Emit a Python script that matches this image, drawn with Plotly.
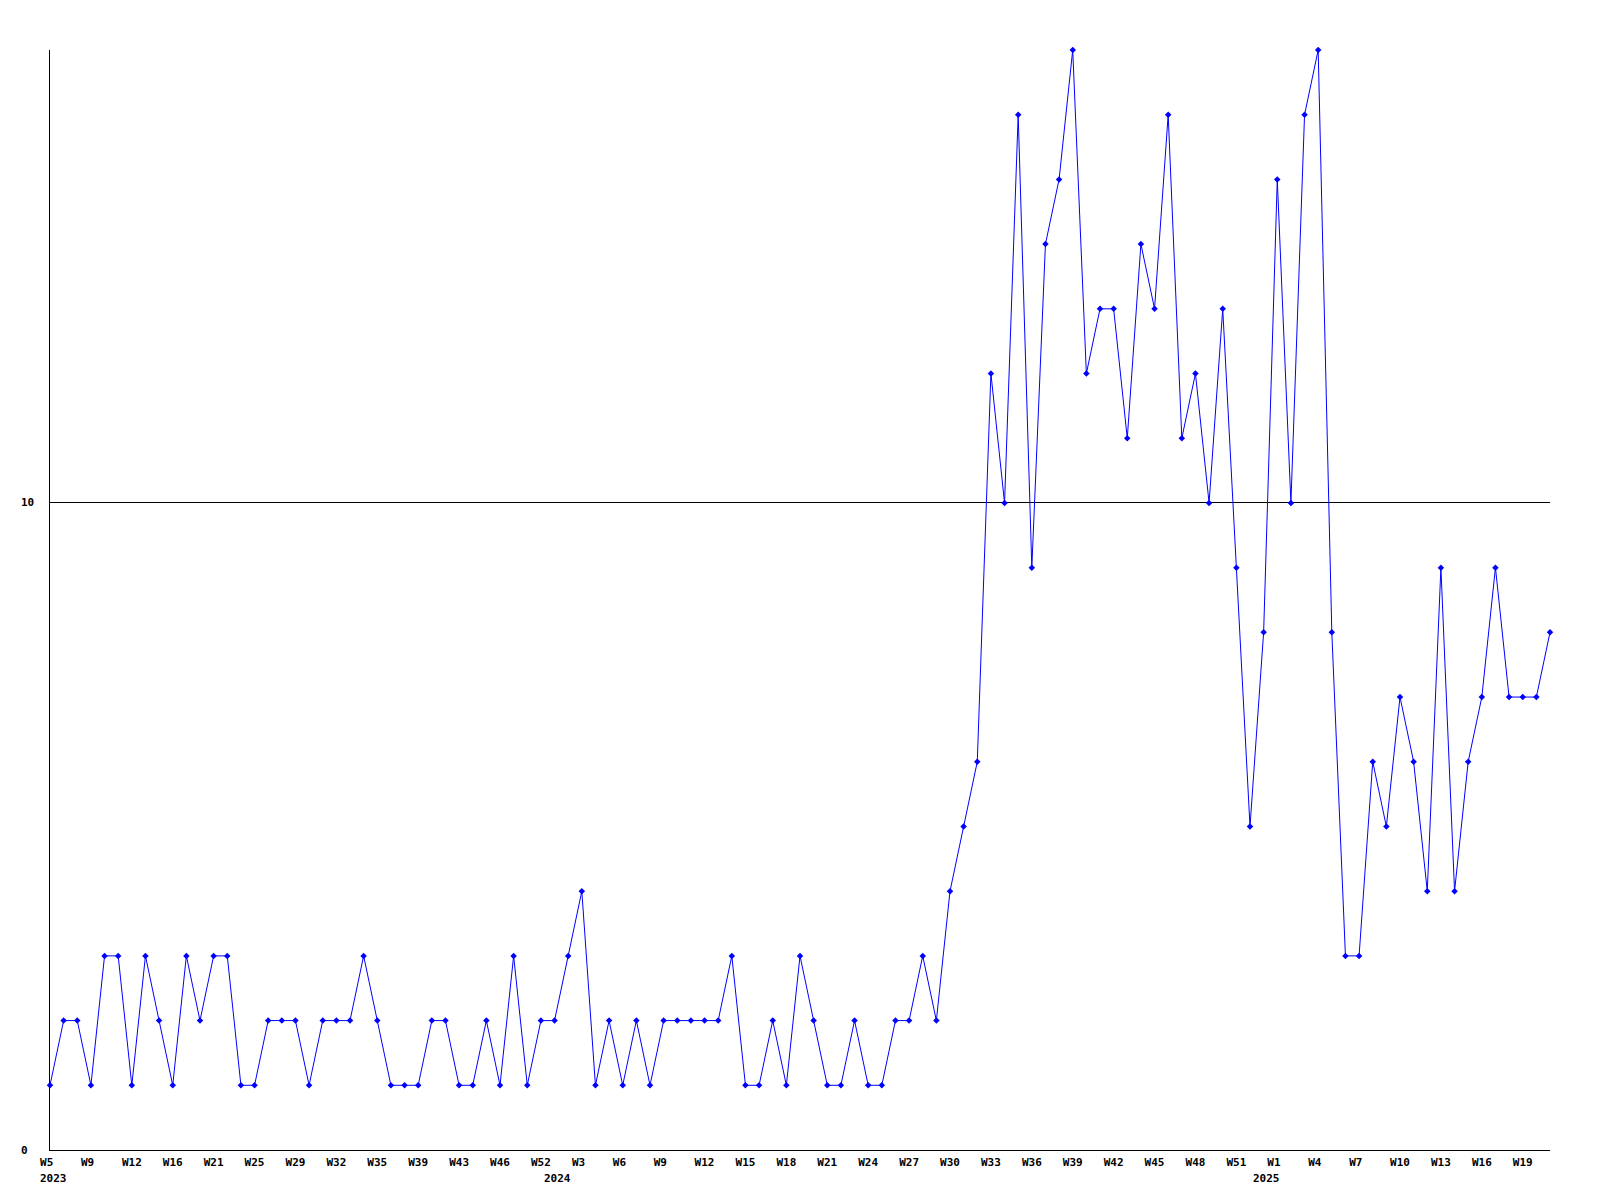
import plotly.graph_objects as go

# weekly values (one point per week, in order)
values = [
    1, 2, 2, 1, 3, 3, 1, 3, 2, 1, 3, 2, 3, 3, 1, 1, 2, 2, 2, 1,
    2, 2, 2, 3, 2, 1, 1, 1, 2, 2, 1, 1, 2, 1, 3, 1, 2, 2, 3, 4,
    1, 2, 1, 2, 1, 2, 2, 2, 2, 2, 3, 1, 1, 2, 1, 3, 2, 1, 1, 2,
    1, 1, 2, 2, 3, 2, 4, 5, 6, 12, 10, 16, 9, 14, 15, 17, 12, 13, 13, 11,
    14, 13, 16, 11, 12, 10, 13, 9, 5, 8, 15, 10, 16, 17, 8, 3, 3, 6, 5, 7,
    6, 4, 9, 4, 6, 7, 9, 7, 7, 7, 8,
]

# week tick labels, one every third point
week_labels = [
    "W5", "W9", "W12", "W16", "W21", "W25", "W29", "W32", "W35", "W39", "W43", "W46", "W52",
    "W3", "W6", "W9", "W12", "W15", "W18", "W21", "W24", "W27", "W30", "W33", "W36", "W39",
    "W42", "W45", "W48", "W51",
    "W1", "W4", "W7", "W10", "W13", "W16", "W19",
]
week_label_step = 3

# year labels and the point index where each year starts
years = ["2023", "2024", "2025"]
year_start_index = [0, 37, 89]

y_ticks = [0, 10]
y_max = 17

x = list(range(len(values)))
tickvals = [i * week_label_step for i in range(len(week_labels))]
# pad 2-char labels so they sit like the original (monospace, centred on 3 chars)
ticktext = [w + "\u00a0" if len(w) < 3 else w for w in week_labels]

FONT = dict(family="DejaVu Sans Mono", size=11, color="black", weight="bold")

fig = go.Figure()
fig.add_trace(go.Scatter(
    x=x, y=values, mode="lines+markers",
    line=dict(color="#0000FF", width=1),
    marker=dict(symbol="diamond", size=5, color="#0000FF"),
    cliponaxis=False,
    showlegend=False,
    hoverinfo="x+y",
))

annotations = []
for yr, idx in zip(years, year_start_index):
    annotations.append(dict(
        x=idx, xref="x", y=0, yref="paper", text=yr, showarrow=False,
        xanchor="center", yanchor="top", xshift=3, yshift=-20, font=FONT,
    ))
for v in y_ticks:
    annotations.append(dict(
        x=0, xref="paper", y=v, yref="y", text=str(v), showarrow=False,
        xanchor="left", yanchor="middle", xshift=-31, font=FONT,
    ))

fig.update_layout(
    width=1592, height=1192,
    margin=dict(l=42, r=50, t=42, b=50),
    paper_bgcolor="white", plot_bgcolor="white",
    font=FONT,
    annotations=annotations,
    xaxis=dict(
        range=[0, len(values) - 1], tickmode="array", tickvals=tickvals, ticktext=ticktext,
        showgrid=False, zeroline=False, showline=True, linecolor="black", linewidth=1,
        ticks="", ticklabelstandoff=2, tickfont=FONT, fixedrange=True,
    ),
    yaxis=dict(
        range=[0, y_max], tickmode="array", tickvals=y_ticks, showticklabels=False,
        showgrid=True, gridcolor="black", gridwidth=1, zeroline=False,
        showline=True, linecolor="black", linewidth=1, ticks="", fixedrange=True,
    ),
)

fig.write_html("out.html")
